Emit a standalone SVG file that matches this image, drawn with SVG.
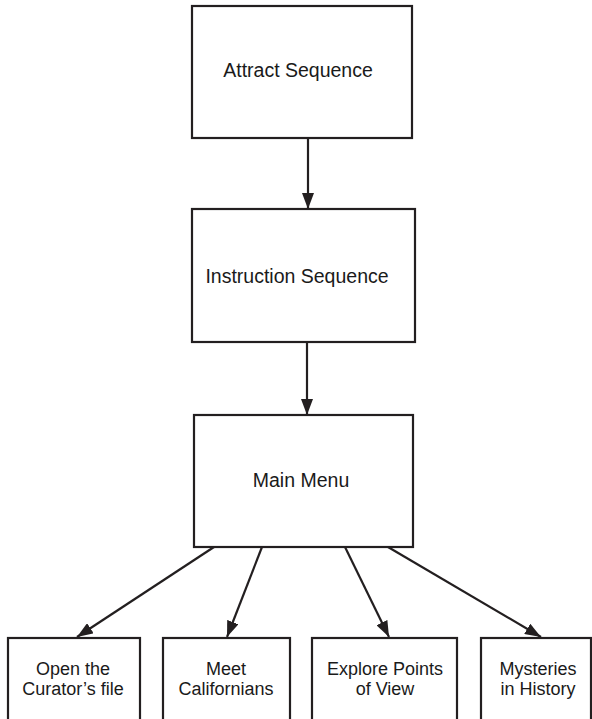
<svg xmlns="http://www.w3.org/2000/svg" width="592" height="719" viewBox="0 0 592 719">
<style>
.box{fill:#fff;stroke:#231f20;stroke-width:2.2}
.lbl{font-family:"Liberation Sans",Arial,sans-serif;font-size:19.5px;fill:#1a1a1a;text-anchor:middle}
.sm{font-size:18px}
.con{stroke:#231f20;stroke-width:2.2;fill:none;marker-end:url(#ah)}
</style>
<defs>
<marker id="ah" viewBox="0 0 16 12" refX="16" refY="6" markerWidth="16" markerHeight="12" markerUnits="userSpaceOnUse" orient="auto">
<path d="M0,0 L16,6 L0,12 z" fill="#231f20"/>
</marker>
</defs>
<rect width="592" height="719" fill="#fff"/>
<g id="attract"><rect class="box" x="192" y="6" width="220" height="132"/><text class="lbl" x="298" y="77">Attract Sequence</text></g>
<g id="instruction"><rect class="box" x="192" y="209" width="223" height="133"/><text class="lbl" x="297" y="283">Instruction Sequence</text></g>
<g id="mainmenu"><rect class="box" x="194" y="415" width="219" height="132"/><text class="lbl" x="301" y="487">Main Menu</text></g>
<g id="curator"><rect class="box" x="8" y="638" width="132" height="100"/><text class="lbl sm" x="73" y="675">Open the</text><text class="lbl sm" x="73" y="695">Curator’s file</text></g>
<g id="californians"><rect class="box" x="163" y="638" width="127" height="100"/><text class="lbl sm" x="226" y="675">Meet</text><text class="lbl sm" x="226" y="695">Californians</text></g>
<g id="points"><rect class="box" x="312" y="638" width="145" height="100"/><text class="lbl sm" x="385" y="675">Explore Points</text><text class="lbl sm" x="385" y="695">of View</text></g>
<g id="mysteries"><rect class="box" x="481" y="638" width="110" height="100"/><text class="lbl sm" x="538" y="675">Mysteries</text><text class="lbl sm" x="538" y="695">in History</text></g>
<g id="connectors">
<line class="con" x1="308" y1="138" x2="308" y2="209"/>
<line class="con" x1="307" y1="342" x2="307" y2="415"/>
<line class="con" x1="214" y1="547" x2="77" y2="637"/>
<line class="con" x1="262" y1="547" x2="227" y2="637"/>
<line class="con" x1="345" y1="547" x2="389" y2="637"/>
<line class="con" x1="388" y1="547" x2="541" y2="637"/>
</g>
</svg>
